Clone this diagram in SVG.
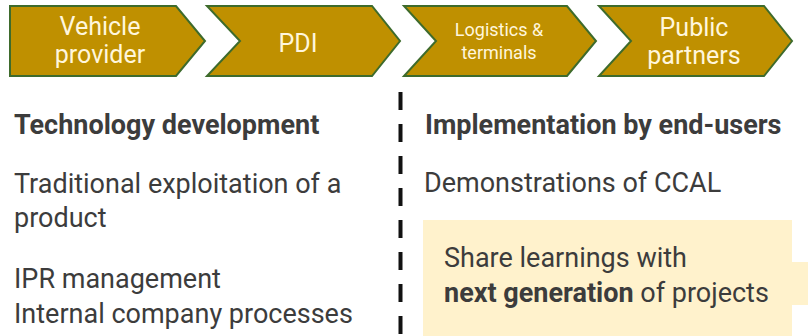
<svg xmlns="http://www.w3.org/2000/svg" width="808" height="336" viewBox="0 0 808 336">
<style>
.chev{fill:#BF9000;stroke:#3E6B2C;stroke-width:2;stroke-linejoin:miter}
.ht{font-family:Roboto,"Liberation Sans",sans-serif;fill:#FFF6DC;text-anchor:middle}
.bt{font-family:Roboto,"Liberation Sans",sans-serif;fill:#3C3C3C;font-size:27px}
.b{font-weight:bold}
</style>
<rect width="808" height="336" fill="#FFFFFF"/>
<g id="vehicle-provider">
<polygon class="chev" points="10,6 176,6 205,41 176,76 10,76"/>
<text class="ht" font-size="25" x="100" y="35">Vehicle</text>
<text class="ht" font-size="25" x="100" y="63">provider</text>
</g>
<g id="pdi">
<polygon class="chev" points="207,6 372,6 400,41 372,76 207,76 240,41"/>
<text class="ht" font-size="25" x="298" y="52">PDI</text>
</g>
<g id="logistics">
<polygon class="chev" points="404,6 567,6 596,41 567,76 404,76 436,41"/>
<text class="ht" font-size="18" x="499" y="36">Logistics &amp;</text>
<text class="ht" font-size="18" x="499" y="59">terminals</text>
</g>
<g id="public-partners">
<polygon class="chev" points="599,6 764,6 792,41 764,76 599,76 631,41"/>
<text class="ht" font-size="25" x="694" y="36">Public</text>
<text class="ht" font-size="25" x="694" y="64">partners</text>
</g>
<g id="connectors">
<line x1="400.5" y1="92" x2="400.5" y2="336" stroke="#111111" stroke-width="4" stroke-dasharray="18 14"/>
</g>
<g id="technology-development">
<text class="bt b" x="14" y="134">Technology development</text>
<text class="bt" x="14" y="193">Traditional exploitation of a</text>
<text class="bt" x="14" y="227">product</text>
<text class="bt" x="14" y="288">IPR management</text>
<text class="bt" x="14" y="323">Internal company processes</text>
</g>
<g id="implementation">
<text class="bt b" x="425" y="134">Implementation by end-users</text>
<text class="bt" x="424" y="192">Demonstrations of CCAL</text>
</g>
<g id="share-learnings">
<rect x="423" y="220" width="369" height="116" fill="#FFF2CC"/>
<rect x="792" y="262" width="16" height="43" fill="#FFF2CC"/>
<text class="bt" x="444" y="267">Share learnings with</text>
<text class="bt" x="444" y="302"><tspan class="b">next generation</tspan> of projects</text>
</g>
</svg>
